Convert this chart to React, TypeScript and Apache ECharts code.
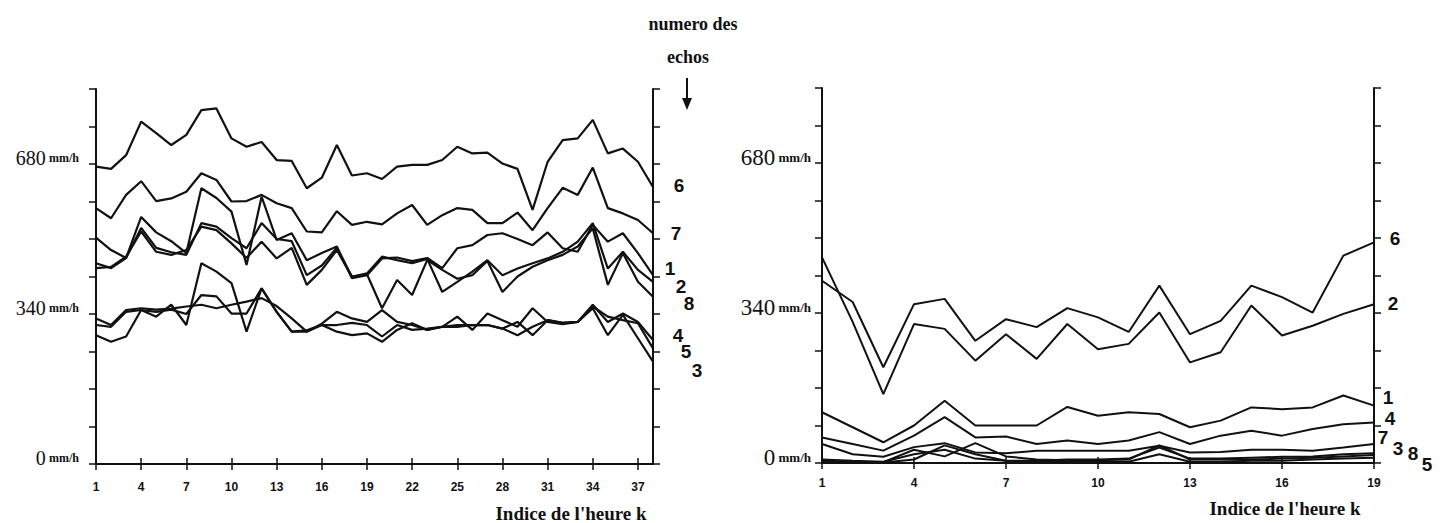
import React, { useEffect, useRef } from "react";
import * as echarts from "echarts";

const hoursLeft = ["1","2","3","4","5","6","7","8","9","10","11","12","13","14","15","16","17","18","19","20","21","22","23","24","25","26","27","28","29","30","31","32","33","34","35","36","37","38"];
const hoursRight = ["1","2","3","4","5","6","7","8","9","10","11","12","13","14","15","16","17","18","19"];
const yLabelValues = [0, 340, 680];

// Left panel (mm/h), echo numbers 1..8
const echo6L = [674,669,700,776,750,723,746,802,806,738,719,730,689,687,625,649,723,654,659,646,674,678,678,689,719,704,706,681,669,576,685,734,738,780,704,715,685,628];
const echo7L = [580,557,610,641,596,602,617,659,644,595,596,610,591,580,527,525,573,542,549,543,568,587,542,564,580,576,546,546,570,530,580,626,610,672,580,568,553,523];
const echo1L = [513,485,467,560,525,505,478,625,603,572,451,606,508,523,462,478,493,421,428,466,468,460,467,444,489,496,519,523,510,496,525,489,481,542,504,523,478,428];
const echo2L = [444,447,470,527,481,474,485,538,530,500,467,504,466,490,406,440,485,424,432,470,462,455,465,390,413,436,462,428,443,455,466,481,504,546,443,481,440,413];
const echo8L = [455,444,467,535,490,480,474,546,538,512,489,546,510,505,428,450,490,425,430,353,417,383,462,440,420,428,460,390,425,447,462,474,493,534,406,478,413,379];
const echo4L = [330,315,349,353,350,352,357,361,353,361,368,376,358,330,300,318,345,330,322,349,322,315,304,311,334,304,341,326,311,353,322,317,322,361,322,341,322,281];
const echo5L = [315,311,345,349,334,361,315,455,436,410,300,398,345,300,303,315,315,320,315,289,315,304,307,311,315,315,315,307,322,292,326,320,322,357,334,326,319,262];
const echo3L = [292,277,289,349,345,350,340,383,380,341,341,398,345,300,300,315,300,292,296,277,304,319,304,311,311,315,315,307,292,311,326,320,322,353,292,338,285,232];

// Right panel
const echo6R = [413,365,217,360,372,277,326,308,351,330,297,402,292,322,402,376,341,470,500];
const echo2R = [466,320,156,315,304,232,292,236,315,258,270,341,228,251,357,289,311,338,360];
const echo1R = [115,81,47,85,141,85,85,85,127,107,115,111,81,96,126,122,126,153,130];
const echo4R = [58,43,28,62,104,58,60,43,51,43,51,70,43,62,73,62,77,88,92];
const echo7R = [43,20,14,36,45,24,22,28,28,28,28,39,24,25,30,30,28,35,43];
const echo3R = [8,5,3,20,30,10,5,5,8,8,10,35,10,10,12,14,15,20,22];
const echo8R = [5,3,2,30,15,45,15,8,6,6,8,40,8,8,8,10,12,15,18];
const echo5R = [3,2,1,8,40,20,5,3,3,3,3,20,3,3,5,5,8,10,12];

const leftSeries = [echo6L, echo7L, echo1L, echo2L, echo8L, echo4L, echo5L, echo3L];
const rightSeries = [echo6R, echo2R, echo1R, echo4R, echo7R, echo3R, echo8R, echo5R];

const leftEchoLabels: [string, number, number][] = [
  ["6", 679, 185], ["7", 676, 233], ["1", 670, 268], ["2", 681, 286], ["8", 689, 303],
  ["4", 678, 335], ["5", 686, 351], ["3", 697, 370],
];
const rightEchoLabels: [string, number, number][] = [
  ["6", 1395, 238], ["2", 1393, 303], ["1", 1388, 397], ["4", 1390, 418],
  ["7", 1383, 437], ["3", 1398, 448], ["8", 1413, 453], ["5", 1427, 464],
];

const BLACK = "#111";

function xAxes(data: string[], gridIndex: number, labelMargin: number) {
  const every3 = (i: number) => i % 3 === 0;
  return [
    {
      type: "category", gridIndex, data, boundaryGap: false, position: "bottom",
      axisLine: { show: true, lineStyle: { color: BLACK, width: 2 } },
      axisTick: { show: true, interval: every3, length: 6, lineStyle: { color: BLACK, width: 1.5 } },
      axisLabel: {
        show: true, interval: every3, margin: labelMargin,
        fontFamily: "Liberation Sans", fontWeight: "bold", fontSize: 12, color: BLACK,
      },
      splitLine: { show: false },
    },
    {
      type: "category", gridIndex, data, boundaryGap: false, position: "top",
      axisLine: { show: true, lineStyle: { color: BLACK, width: 2 } },
      axisTick: { show: true, interval: every3, length: 6, lineStyle: { color: BLACK, width: 1.5 } },
      axisLabel: { show: false },
      splitLine: { show: false },
    },
  ];
}

function yAxes(gridIndex: number, labelMargin: number, numSize: number, unitSize: number) {
  return [
    {
      type: "value", gridIndex, min: 0, max: 850, interval: 85, position: "left",
      axisLine: { show: true, lineStyle: { color: BLACK, width: 2 } },
      axisTick: { show: true, length: 7, lineStyle: { color: BLACK, width: 1.5 } },
      splitLine: { show: false },
      axisLabel: {
        show: true, margin: labelMargin, padding: [0, 0, 12, 0],
        formatter: (v: number) => (yLabelValues.indexOf(Math.round(v)) >= 0 ? `{n|${Math.round(v)}} {u|mm/h}` : ""),
        rich: {
          n: { fontFamily: "Liberation Serif", fontSize: numSize, color: BLACK },
          u: { fontFamily: "Liberation Serif", fontSize: unitSize, fontWeight: "bold", color: BLACK },
        },
      },
    },
    {
      type: "value", gridIndex, min: 0, max: 850, interval: 85, position: "right",
      axisLine: { show: true, lineStyle: { color: BLACK, width: 2 } },
      axisTick: { show: true, length: 7, lineStyle: { color: BLACK, width: 1.5 } },
      splitLine: { show: false },
      axisLabel: { show: false },
    },
  ];
}

export default function App() {
  const ref = useRef<HTMLDivElement>(null);
  useEffect(() => {
    if (!ref.current) return;
    const chart = echarts.init(ref.current, null, { renderer: "svg" });
    const series: any[] = [];
    leftSeries.forEach((d) => {
      series.push({
        type: "line", xAxisIndex: 0, yAxisIndex: 0, data: d, showSymbol: false,
        lineStyle: { color: BLACK, width: 2.2 }, silent: true,
      });
    });
    rightSeries.forEach((d) => {
      series.push({
        type: "line", xAxisIndex: 2, yAxisIndex: 2, data: d, showSymbol: false,
        lineStyle: { color: BLACK, width: 2 }, silent: true,
      });
    });
    const echoText = (t: string, x: number, y: number) => ({
      type: "text", x, y,
      style: {
        text: t, fill: BLACK, fontFamily: "Liberation Sans", fontSize: 19, fontWeight: "bold",
        textAlign: "center", textVerticalAlign: "middle", align: "center", verticalAlign: "middle",
      },
    });
    const serifText = (t: string, x: number, y: number, size: number) => ({
      type: "text", x, y,
      style: {
        text: t, fill: BLACK, fontFamily: "Liberation Serif", fontSize: size, fontWeight: "bold",
        textAlign: "center", textVerticalAlign: "middle", align: "center", verticalAlign: "middle",
      },
    });
    chart.setOption({
      animation: false,
      backgroundColor: "#fff",
      grid: [
        { left: 96, top: 89, width: 557, height: 375 },
        { left: 822, top: 88, width: 552, height: 375 },
      ],
      xAxis: [...xAxes(hoursLeft, 0, 17), ...xAxes(hoursRight, 1, 14)],
      yAxis: [...yAxes(0, 17, 20, 12), ...yAxes(1, 11, 23, 13)],
      series,
      graphic: [
        ...leftEchoLabels.map(([t, x, y]) => echoText(t, x, y)),
        ...rightEchoLabels.map(([t, x, y]) => echoText(t, x, y)),
        serifText("Indice de l'heure k", 571, 513, 19),
        serifText("Indice de l'heure k", 1285, 508, 19),
        serifText("numero des", 693, 24, 18),
        serifText("echos", 688, 57, 18),
        { type: "line", shape: { x1: 687, y1: 78, x2: 687, y2: 102 }, style: { stroke: BLACK, lineWidth: 2 } },
        { type: "polygon", shape: { points: [[682, 98], [692, 98], [687, 110]] }, style: { fill: BLACK } },
      ],
    });
    return () => chart.dispose();
  }, []);
  return (
    <div
      ref={ref}
      style={{ position: "absolute", left: 0, top: 0, width: 1448, height: 523, background: "#fff" }}
    />
  );
}
